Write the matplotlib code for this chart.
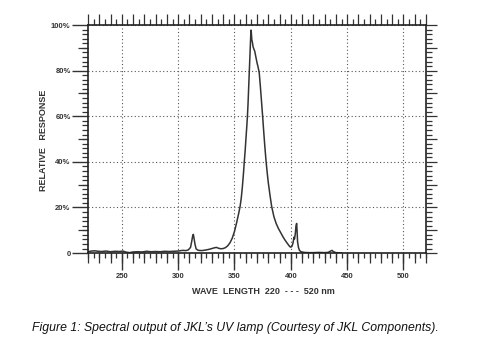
import matplotlib
matplotlib.use("Agg")
import matplotlib.pyplot as plt
import numpy as np
from matplotlib.ticker import MultipleLocator, FixedLocator, NullFormatter

# spectrum (nm, % relative response)
wavelength = [220, 223, 226, 229, 232, 236, 240, 244, 248, 251, 254, 257, 260, 264,
              268, 272, 276, 280, 284, 288, 292, 296, 300, 304, 307, 309, 311, 312,
              313, 313.5, 314, 315, 316, 318, 321, 324, 327, 330, 332, 334, 336, 338,
              340, 342, 344, 346, 348, 350, 352, 354, 355, 356, 357, 358, 358.7, 359.5,
              360.3, 361, 361.5, 362, 362.4, 362.8, 363.2, 363.6, 364, 364.4, 364.7,
              365, 365.4, 365.9, 366.5, 367.2, 368, 369, 370, 371, 372, 373, 374, 375,
              376, 377, 378, 379, 380, 381.5, 383, 385, 387, 389, 391, 393, 395, 397,
              399, 400, 401, 402, 402.8, 403.3, 404, 404.6, 405.2, 405.6, 406, 406.8,
              407.7, 409, 412, 416, 420, 425, 430, 433, 435, 436.5, 438, 440, 445]
response = [0.6, 0.9, 1.0, 0.8, 0.7, 0.9, 0.6, 0.8, 0.7, 0.9, 0.4, 0.2, 0.5, 0.6,
            0.5, 0.8, 0.6, 0.7, 0.6, 0.8, 0.7, 0.8, 0.9, 1.2, 1.1, 1.4, 2.5, 5.0,
            7.8, 8.2, 6.8, 3.8, 1.8, 1.2, 1.1, 1.3, 1.6, 2.0, 2.3, 2.5, 2.1, 1.9,
            2.0, 2.4, 3.2, 4.5, 6.5, 9.5, 13.5, 18, 20.5, 24, 29, 35, 40, 45,
            51, 56, 60, 65, 70, 75, 80, 85, 90, 95, 97.8,
            96.5, 93.5, 92.5, 90.5, 89.5, 88.5, 86, 83.5, 81.5, 79, 73, 66.5, 60,
            53, 46.5, 40.5, 35.5, 31, 25.5, 20.5, 16, 13, 10.8, 9, 7.2, 5.6, 4.2,
            2.9, 2.6, 3.0, 4.5, 7.0, 6.2, 8.5, 12.0, 13.0, 9.5, 5.0, 2.5,
            1.2, 0.6, 0.3, 0.2, 0.2, 0.3, 0.2, 0.3, 0.8, 1.2, 0.6, 0.2, 0.1]

x_ticks = [250, 300, 350, 400, 450, 500]
y_ticks = [0, 20, 40, 60, 80, 100]
y_labels = ["0", "20%", "40%", "60%", "80%", "100%"]

plt.rcParams['font.family'] = ['Liberation Sans', 'DejaVu Sans']

fig = plt.figure(figsize=(5, 3.53), dpi=100)
ax = fig.add_axes([0.176, 0.283, 0.676, 0.646])

ax.plot(wavelength, response, color="#333333", lw=1.1)
ax.set_xlim(220, 520)
ax.set_ylim(0, 100)

for s in ax.spines.values():
    s.set_linewidth(1.2)
    s.set_color("#222222")

lab = dict(fontsize=5.5, fontweight="bold", color="#333333")

# bottom: long ticks at 50s, short at 5s
ax.set_xticks(x_ticks)
ax.set_xticklabels([str(v) for v in x_ticks], **lab)
ax.xaxis.set_minor_locator(MultipleLocator(5))
ax.tick_params(axis="x", which="major", direction="out", length=12, width=1.0, pad=2, color="#333333")
ax.tick_params(axis="x", which="minor", direction="out", length=3.6, width=0.9, color="#333333")

# left: long at 20%, short at 2%
ax.set_yticks(y_ticks)
ax.set_yticklabels(y_labels, **lab)
ax.yaxis.set_minor_locator(MultipleLocator(2))
ax.tick_params(axis="y", which="major", direction="out", length=11.5, width=1.0, pad=1, color="#333333")
ax.tick_params(axis="y", which="minor", direction="out", length=4.3, width=0.9, color="#333333")

# medium ticks: 10 nm at bottom, 10% at left
secb = ax.secondary_xaxis("bottom")
secb.set_xticks(np.arange(220, 521, 10))
secb.xaxis.set_major_formatter(NullFormatter())
secb.tick_params(length=7.2, width=0.9, color="#333333")
secb.spines["bottom"].set_visible(False)

secl = ax.secondary_yaxis("left")
secl.set_yticks(np.arange(10, 100, 20))
secl.yaxis.set_major_formatter(NullFormatter())
secl.tick_params(length=7.2, width=0.9, color="#333333")
secl.spines["left"].set_visible(False)

# top and right scales
sect = ax.secondary_xaxis("top")
sect.set_xticks(np.arange(220, 521, 10))
sect.xaxis.set_minor_locator(MultipleLocator(5))
sect.xaxis.set_major_formatter(NullFormatter())
sect.tick_params(which="major", length=8, width=0.9, color="#333333")
sect.tick_params(which="minor", length=4, width=0.9, color="#333333")
sect.spines["top"].set_visible(False)

secr = ax.secondary_yaxis("right")
secr.set_yticks(np.arange(0, 101, 10))
secr.yaxis.set_minor_locator(MultipleLocator(2))
secr.yaxis.set_major_formatter(NullFormatter())
secr.tick_params(which="major", length=8, width=0.9, color="#333333")
secr.tick_params(which="minor", length=4, width=0.9, color="#333333")
secr.spines["right"].set_visible(False)

ax.grid(True, which="major", linestyle=(0, (1, 2.2)), color="#555555", linewidth=0.8)

fig.text(0.087, 0.603, "RELATIVE   RESPONSE", rotation=90, ha="center", va="center",
         fontsize=6.5, fontweight="bold", color="#333333")
fig.text(0.526, 1 - 292 / 353, "WAVE  LENGTH  220  - - -  520 nm", ha="center", va="center",
         fontsize=6.5, fontweight="bold", color="#333333")
fig.text(0.064, 1 - 328 / 353,
         "Figure 1: Spectral output of JKL\u2019s UV lamp (Courtesy of JKL Components).",
         ha="left", va="center", fontsize=8.8, style="italic", color="#111111")

fig.savefig("out.png", dpi=100)
